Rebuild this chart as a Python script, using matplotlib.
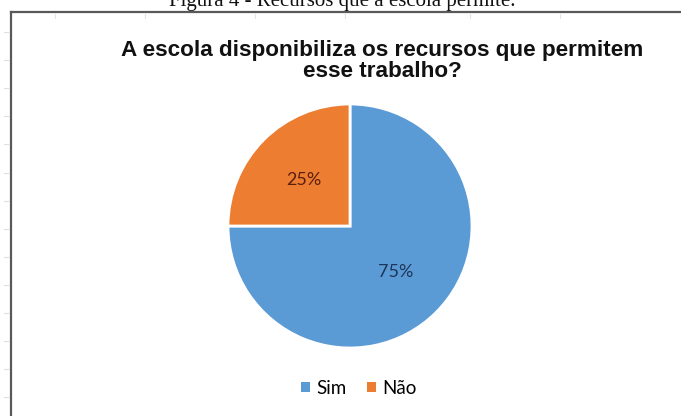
import matplotlib
matplotlib.use("Agg")
import matplotlib.pyplot as plt
from matplotlib.lines import Line2D
from matplotlib.patches import Patch

# Survey answers (percent)
categories = ["Sim", "Não"]
shares = [75, 25]
colors = ["#5B9BD5", "#ED7D31"]
label_colors = ["#1F3558", "#5C1E0E"]

caption = "Figura 4 - Recursos que a escola permite."
title = "A escola disponibiliza os recursos que permitem\nesse trabalho?"

W, H = 681, 416
fig = plt.figure(figsize=(W / 100, H / 100), dpi=100)
fig.patch.set_facecolor("white")

def fx(px):
    return px / W

def fy(py):
    return 1 - py / H

# document caption, partly cut off by the top edge
fig.text(fx(342), fy(6), caption, ha="center", va="baseline",
         family="Liberation Serif", fontsize=15, color="#111111")

# chart frame (left and top border)
fig.add_artist(Line2D([fx(11), fx(11)], [fy(12), 0], color="#595959", lw=1.6,
                      transform=fig.transFigure))
fig.add_artist(Line2D([fx(11), 1], [fy(12), fy(12)], color="#595959", lw=1.6,
                      transform=fig.transFigure))

# faint spreadsheet row marks at the left margin
for i in range(14):
    y = 32 + i * 28.1
    fig.add_artist(Line2D([fx(4), fx(9)], [fy(y), fy(y)], color="#e0e0e0", lw=0.8,
                          transform=fig.transFigure))
for x in [55, 145, 255, 345, 470, 560]:
    fig.add_artist(Line2D([fx(x), fx(x)], [fy(14), fy(18)], color="#e4e4e4", lw=0.8,
                          transform=fig.transFigure))

# title
fig.text(fx(382), fy(61), title, ha="center", va="center", linespacing=1.02,
         family="Liberation Sans", fontweight="bold", fontsize=16.2, color="#111111")

# pie
cx, cy, R = 350, 226, 122
ax = fig.add_axes([fx(cx - R), fy(cy + R), 2 * R / W, 2 * R / H])
wedges, _, autotexts = ax.pie(
    shares, colors=colors, startangle=90, counterclock=False,
    autopct="%d%%", pctdistance=0.53, radius=1,
    wedgeprops=dict(edgecolor="white", linewidth=2),
    textprops=dict(family="Lato", fontsize=13))
for t, c in zip(autotexts, label_colors):
    t.set_color(c)
ax.set_xlim(-1, 1)
ax.set_ylim(-1, 1)
ax.set_aspect("equal")
ax.axis("off")

# legend
handles = [Patch(facecolor=c, edgecolor="none") for c in colors]
fig.legend(handles, categories, loc="center", bbox_to_anchor=(fx(359), fy(388)),
           ncol=2, frameon=False, handlelength=0.45, handleheight=0.45,
           handletextpad=0.35, columnspacing=1.1,
           prop=dict(family="Lato", size=13.5))

fig.savefig("out.png", dpi=100, facecolor="white")
